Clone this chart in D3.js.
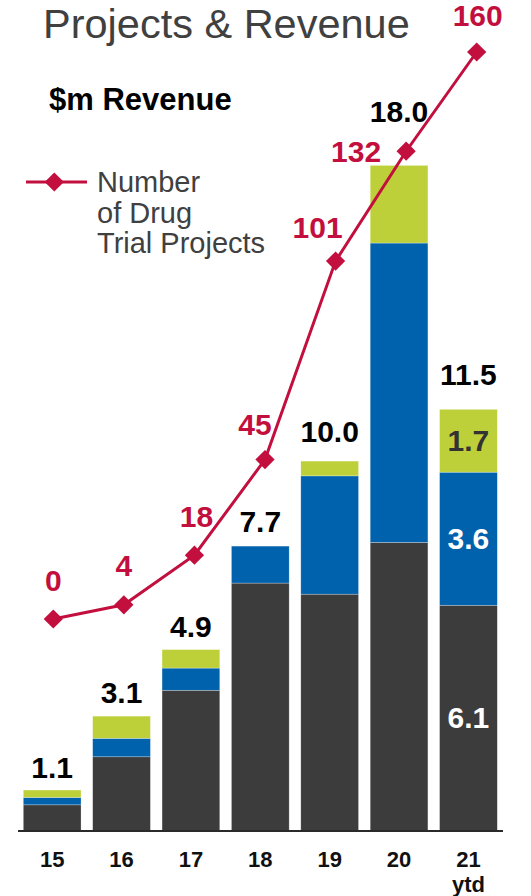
<!DOCTYPE html>
<html>
<head>
<meta charset="utf-8">
<script src="https://cdn.jsdelivr.net/npm/d3@7/dist/d3.min.js"></script>
<style>
  html, body { margin: 0; padding: 0; background: #ffffff; }
  svg { display: block; }
  text { font-family: "Liberation Sans", Arial, Helvetica, sans-serif; }
</style>
</head>
<body>
<svg id="chart" width="531" height="896"></svg>
<script>
// Financial years and revenue split ($m)
const years = ["15", "16", "17", "18", "19", "20", "21"];
const yearSub = ["", "", "", "", "", "", "ytd"];
const revenueCore = [0.7, 2.0, 3.8, 6.7, 6.4, 7.8, 6.1];
const revenueMid = [0.2, 0.5, 0.6, 1.0, 3.2, 8.1, 3.6];
const revenueTop = [0.2, 0.6, 0.5, 0.0, 0.4, 2.1, 1.7];
const revenueTotals = [1.1, 3.1, 4.9, 7.7, 10.0, 18.0, 11.5];
// Number of drug trial projects
const projects = [0, 4, 18, 45, 101, 132, 160];
// Segment values printed inside the latest bar
const insideLabels = [{ i: 6, key: "top" }, { i: 6, key: "mid" }, { i: 6, key: "core" }];

const colors = {
  core: "#3c3c3c",
  mid: "#0061ad",
  top: "#bdd03a",
  line: "#c20f3e",
  title: "#404040",
  axis: "#2a2a2a"
};

// Label nudges (px) to keep labels clear of the project line
const totalGap = [12, 13, 13, 14, 19, 43, 24];
const projLabelOffset = [[0, -28], [0, -29], [2, -28], [-10, -25], [-18, -23], [-50, 11], [1, -26]];

const svg = d3.select("#chart");
const baseY = 830.7;

const x = d3.scaleBand()
  .domain(years)
  .range([23.3, 497.3])
  .paddingInner(0.168)
  .paddingOuter(0);

const y = d3.scaleLinear().domain([0, 20]).range([baseY, baseY - 20 * 36.96]);

const xLine = d3.scalePoint().domain(years).range([53.3, 476.7]);
const yLine = d3.scaleLinear().domain([0, 160]).range([619, 52]);

// Title
svg.append("text")
  .attr("x", 43).attr("y", 38)
  .attr("font-size", 41.5)
  .attr("fill", colors.title)
  .text("Projects & Revenue");

svg.append("text")
  .attr("x", 49).attr("y", 110)
  .attr("font-size", 31)
  .attr("font-weight", "bold")
  .attr("fill", "#000")
  .text("$m Revenue");

// Stacked revenue bars
const rows = years.map((yr, i) => ({ year: yr, core: revenueCore[i], mid: revenueMid[i], top: revenueTop[i] }));
const keys = ["core", "mid", "top"];
const series = d3.stack().keys(keys)(rows);

svg.append("g").selectAll("g")
  .data(series)
  .join("g")
  .attr("fill", s => colors[s.key])
  .selectAll("rect")
  .data(s => s.filter(d => d[1] - d[0] > 0))
  .join("rect")
  .attr("x", d => x(d.data.year))
  .attr("width", x.bandwidth())
  .attr("y", d => y(d[1]))
  .attr("height", d => y(d[0]) - y(d[1]))
  .attr("stroke", "#ffffff")
  .attr("stroke-opacity", 0.45)
  .attr("stroke-width", 0.6);

// Baseline axis
const axis = svg.append("g").attr("transform", `translate(0,${baseY})`)
  .call(d3.axisBottom(x).tickSize(0).tickPadding(0).tickFormat(""));
axis.select(".domain").remove();
svg.append("line")
  .attr("x1", 18).attr("x2", 503)
  .attr("y1", baseY + 0.3).attr("y2", baseY + 0.3)
  .attr("stroke", colors.axis)
  .attr("stroke-width", 1.8);

// Year labels
const tickG = svg.append("g");
tickG.selectAll("text.yr")
  .data(years)
  .join("text")
  .attr("class", "yr")
  .attr("x", d => x(d) + x.bandwidth() / 2)
  .attr("y", 867)
  .attr("text-anchor", "middle")
  .attr("font-size", 22)
  .attr("font-weight", "bold")
  .attr("fill", "#111")
  .text(d => d);
tickG.selectAll("text.sub")
  .data(years.map((d, i) => ({ year: d, sub: yearSub[i] })).filter(d => d.sub))
  .join("text")
  .attr("class", "sub")
  .attr("x", d => x(d.year) + x.bandwidth() / 2)
  .attr("y", 892)
  .attr("text-anchor", "middle")
  .attr("font-size", 22)
  .attr("font-weight", "bold")
  .attr("fill", "#111")
  .text(d => d.sub);

// Total labels above bars
const stackTop = rows.map(r => r.core + r.mid + r.top);
svg.append("g").selectAll("text")
  .data(years)
  .join("text")
  .attr("x", d => x(d) + x.bandwidth() / 2)
  .attr("y", (d, i) => y(stackTop[i]) - totalGap[i])
  .attr("text-anchor", "middle")
  .attr("font-size", 30)
  .attr("font-weight", "bold")
  .attr("fill", "#000")
  .text((d, i) => revenueTotals[i].toFixed(1));

// Segment value labels inside the latest bar
svg.append("g").selectAll("text")
  .data(insideLabels)
  .join("text")
  .attr("x", d => x(years[d.i]) + x.bandwidth() / 2)
  .attr("y", d => {
    const s = series.find(s => s.key === d.key)[d.i];
    return (y(s[0]) + y(s[1])) / 2 + 10.5;
  })
  .attr("text-anchor", "middle")
  .attr("font-size", 30)
  .attr("font-weight", "bold")
  .attr("fill", d => d.key === "top" ? "#333333" : "#ffffff")
  .text(d => rows[d.i][d.key].toFixed(1));

// Project count line
const diamond = d3.symbol().type(d3.symbolSquare).size(185);
const line = d3.line().x((d, i) => xLine(years[i])).y(d => yLine(d));

svg.append("path")
  .datum(projects)
  .attr("d", line)
  .attr("fill", "none")
  .attr("stroke", colors.line)
  .attr("stroke-width", 3);

svg.append("g").selectAll("path")
  .data(projects)
  .join("path")
  .attr("d", diamond)
  .attr("transform", (d, i) => `translate(${xLine(years[i])},${yLine(d)}) rotate(45)`)
  .attr("fill", colors.line);

svg.append("g").selectAll("text")
  .data(projects)
  .join("text")
  .attr("x", (d, i) => xLine(years[i]) + projLabelOffset[i][0])
  .attr("y", (d, i) => yLine(d) + projLabelOffset[i][1])
  .attr("text-anchor", "middle")
  .attr("font-size", 30)
  .attr("font-weight", "bold")
  .attr("fill", colors.line)
  .text(d => d);

// Legend
const legend = svg.append("g");
legend.append("line")
  .attr("x1", 26).attr("x2", 87)
  .attr("y1", 182).attr("y2", 182)
  .attr("stroke", colors.line)
  .attr("stroke-width", 3);
legend.append("path")
  .attr("d", diamond)
  .attr("transform", "translate(54.3,182) rotate(45)")
  .attr("fill", colors.line);
legend.append("text")
  .attr("x", 97).attr("y", 192)
  .attr("font-size", 29)
  .attr("fill", colors.title)
  .selectAll("tspan")
  .data(["Number", "of Drug", "Trial Projects"])
  .join("tspan")
  .attr("x", 97)
  .attr("dy", (d, i) => i === 0 ? 0 : 30.7)
  .text(d => d);
</script>
</body>
</html>
